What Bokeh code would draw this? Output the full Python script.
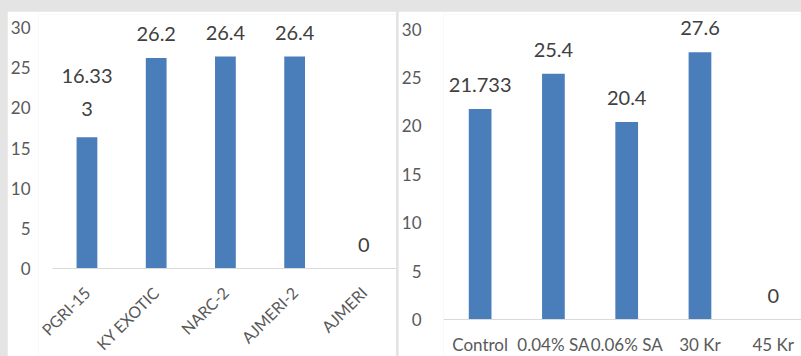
import math
from bokeh.plotting import figure
from bokeh.models import Range1d, FixedTicker, ColumnDataSource, Row
from bokeh.core.properties import value
from bokeh.embed import file_html
from bokeh.resources import INLINE

# Left panel: varieties
varieties = ["PGRI-15", "KY EXOTIC", "NARC-2", "AJMERI-2", "AJMERI"]
variety_values = [16.333, 26.2, 26.4, 26.4, 0]

# Right panel: treatments
treatments = ["Control", "0.04% SA", "0.06% SA", "30 Kr", "45 Kr"]
treatment_values = [21.733, 25.4, 20.4, 27.6, 0]

y_ticks = [0, 5, 10, 15, 20, 25, 30]

FONT = "Lato"
BAR = "#4a7ebb"
TICK_TEXT = "#595959"
LABEL_TEXT = "#404040"
AXIS_LINE = "#d9d9d9"
PANEL_BG = "#e4e4e4"


def wrap(s, n):
    return "\n".join(s[i:i + n] for i in range(0, len(s), n))


def fmt(v):
    return "%g" % v


def make_panel(cats, vals, width, border_left, x_start, x_end, y_start, y_end,
               bar_w, rotate, standoff, y_standoff, x_font, wrap_at=None):
    xs = [i + 0.5 for i in range(len(cats))]
    labels = [fmt(v) for v in vals]
    if wrap_at:
        labels = [wrap(s, wrap_at) for s in labels]
    src = ColumnDataSource(dict(x=xs, top=vals, label=labels))

    # frame runs from y = 14 px down to the bottom edge; the category axis
    # is pinned at value 0 inside the frame
    p = figure(width=width, height=345, output_backend="svg",
               toolbar_location=None,
               x_range=Range1d(x_start, x_end), y_range=Range1d(y_start, y_end),
               min_border_left=border_left, min_border_right=0,
               min_border_top=3, min_border_bottom=0)
    p.background_fill_color = "white"
    p.border_fill_color = "white"
    p.outline_line_color = None
    p.grid.visible = False

    p.vbar(x="x", top="top", width=bar_w, source=src,
           fill_color=BAR, line_color=None)
    p.text(x="x", y="top", text="label", source=src,
           text_font=value(FONT), text_font_size="20px",
           text_color=LABEL_TEXT, text_align="center",
           text_baseline="bottom", text_line_height=1.4, y_offset=-17)

    xa = p.xaxis[0]
    xa.fixed_location = 0
    xa.bounds = (0, x_end)
    xa.ticker = FixedTicker(ticks=xs)
    xa.major_label_overrides = {x: c for x, c in zip(xs, cats)}
    xa.axis_line_color = AXIS_LINE
    xa.major_tick_line_color = None
    xa.minor_tick_line_color = None
    xa.major_label_text_font = FONT
    xa.major_label_text_font_size = x_font
    xa.major_label_text_color = TICK_TEXT
    xa.major_label_standoff = standoff
    if rotate:
        xa.major_label_orientation = math.pi / 4

    ya = p.yaxis[0]
    ya.ticker = FixedTicker(ticks=y_ticks)
    ya.axis_line_color = None
    ya.major_tick_line_color = None
    ya.minor_tick_line_color = None
    ya.major_label_text_font = FONT
    ya.major_label_text_font_size = "17px"
    ya.major_label_text_color = TICK_TEXT
    ya.major_label_standoff = y_standoff
    return p


# Left: frame from x = 34 px (categories start at 48 px, 70 px each),
# y = 14..356 px with the baseline at 268 px, 8.03 px per unit
p1 = make_panel(varieties, variety_values, width=389, border_left=27,
                x_start=-14 / 70, x_end=-14 / 70 + 362 / 70,
                y_start=-(356 - 268) / 8.03, y_end=(268 - 14) / 8.03,
                bar_w=0.3, rotate=True, standoff=15, y_standoff=2,
                x_font="16px", wrap_at=5)
p1.margin = (11, 0, 0, 7)

# Right: categories start at 438 px, 74.3 px each; baseline at 319 px,
# 9.68 px per unit
p2 = make_panel(treatments, treatment_values, width=403, border_left=40,
                x_start=0, x_end=363 / 74.3,
                y_start=-(356 - 319) / 9.68, y_end=(319 - 14) / 9.68,
                bar_w=0.31, rotate=False, standoff=8, y_standoff=16,
                x_font="17px")
p2.margin = (11, 0, 0, 2)

page = Row(children=[p1, p2], spacing=0,
           styles={"background-color": PANEL_BG})

open("out.html", "w").write(file_html(page, INLINE))
